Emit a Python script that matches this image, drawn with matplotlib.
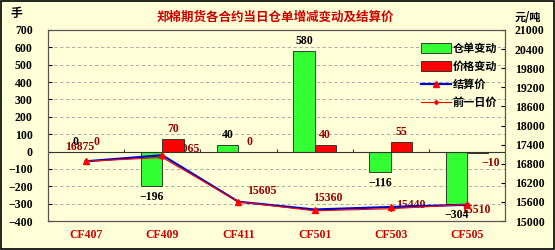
import matplotlib
matplotlib.use('Agg')
import matplotlib.pyplot as plt
from matplotlib.patches import Patch
from matplotlib.lines import Line2D
import numpy as np

plt.rcParams['font.family'] = ['Liberation Serif', 'Noto Sans CJK SC']
plt.rcParams['font.weight'] = 'bold'

contracts = ['CF407', 'CF409', 'CF411', 'CF501', 'CF503', 'CF505']
warrant_change = [0, -196, 40, 580, -116, -304]
price_change = [0, 70, 0, 40, 55, -10]
settle_price = [16875, 17065, 15605, 15360, 15440, 15510]
prev_price = [16875, 16995, 15605, 15320, 15385, 15520]

BG = '#FFFFD8'
DARKRED = '#990000'
FS = 8.5

# label offsets (pixels) for the settle price labels
settle_offsets = [(-6, 14), (22, 6), (23, 11), (13, 12), (20, 2), (9, -5)]

fig = plt.figure(figsize=(5.55, 2.5), dpi=100, facecolor=BG)
ax = fig.add_axes([0.0865, 0.116, 0.8235, 0.764])
ax.set_facecolor(BG)
ax2 = ax.twinx()

x = np.arange(len(contracts)) + 0.5
w = 0.28

ax.bar(x - w / 2, warrant_change, w, color='#33FF33', edgecolor='#222222',
       linewidth=0.6, zorder=3)
ax.bar(x + w / 2, price_change, w, color='#FF0000', edgecolor='#222222',
       linewidth=0.6, zorder=3)

for xi, v in zip(x, warrant_change):
    if v >= 0:
        ax.annotate(str(v), (xi - w / 2, v), xytext=(0, 4), textcoords='offset pixels',
                    ha='center', va='bottom', fontsize=FS, color='black', zorder=5)
    else:
        ax.annotate('−' + str(-v), (xi - w / 2, v), xytext=(0, -5), textcoords='offset pixels',
                    ha='center', va='top', fontsize=FS, color='black', zorder=5)

for xi, v in zip(x, price_change):
    if v >= 0:
        ax.annotate(str(v), (xi + w / 2, v), xytext=(0, 4), textcoords='offset pixels',
                    ha='center', va='bottom', fontsize=FS, color=DARKRED, zorder=5)
    else:
        ax.annotate('−' + str(-v), (xi + w / 2, v), xytext=(13, -4), textcoords='offset pixels',
                    ha='center', va='top', fontsize=FS, color=DARKRED, zorder=5)

ax.set_xlim(0, len(contracts))
ax.set_ylim(-400, 700)
ax.set_yticks(range(-400, 701, 100))
ax.set_yticklabels([str(t) if t >= 0 else '−' + str(-t) for t in range(-400, 701, 100)])
ax.set_xticks(x)
ax.set_xticklabels(contracts, color='#CC0000', fontsize=FS)
ax.tick_params(axis='x', length=0, pad=6)
ax.tick_params(axis='y', labelsize=FS, length=3, direction='in', pad=11)
for t in range(-300, 701, 100):
    if t != 0:
        ax.axhline(t, color='#A0A0A0', lw=0.6, ls=(0, (4, 3)), zorder=1)
ax.axhline(0, color='#333333', lw=0.8, zorder=4)
ax.vlines(np.arange(1, len(contracts)), 0, 12, color='#333333', lw=0.8, zorder=4)
for s in ax.spines.values():
    s.set_color('#555555')
    s.set_linewidth(0.8)

ax2.plot(x, settle_price, color='#0000CC', lw=1.6, marker='^', markersize=5,
         markerfacecolor='#FF0000', markeredgecolor='#FF0000', zorder=3)
ax2.plot(x, prev_price, color='#FF0000', lw=0.8, marker='D', markersize=2,
         markerfacecolor='#FF0000', markeredgecolor='#FF0000', zorder=4)
ax2.set_ylim(15000, 21000)
ax2.set_yticks(range(15000, 21001, 600))
ax2.tick_params(axis='y', labelsize=FS, length=3, direction='in', pad=7)
for s in ax2.spines.values():
    s.set_color('#555555')
    s.set_linewidth(0.8)

for xi, v, off in zip(x, settle_price, settle_offsets):
    ax.annotate(str(v), (xi, v), xycoords=ax2.transData, xytext=off,
                textcoords='offset pixels', ha='center', va='center',
                fontsize=FS, color=DARKRED, zorder=2, annotation_clip=False)

handles = [
    Patch(facecolor='#33FF33', edgecolor='#222222', linewidth=0.6),
    Patch(facecolor='#FF0000', edgecolor='#222222', linewidth=0.6),
    Line2D([], [], color='#0000CC', lw=1.6, marker='^', markersize=5,
           markerfacecolor='#FF0000', markeredgecolor='#FF0000'),
    Line2D([], [], color='#FF0000', lw=0.8, marker='D', markersize=2),
]
labels = ['仓单变动', '价格变动', '结算价', '前一日价']
fig.legend(handles, labels, loc='upper left', bbox_to_anchor=(0.748, 0.855),
           frameon=False, handlelength=2.7, handleheight=0.9,
           labelspacing=0.45, handletextpad=0.2, borderpad=0,
           prop={'family': ['Noto Sans CJK SC'], 'weight': 'bold', 'size': 8})

fig.text(0.497, 0.93, '郑棉期货各合约当日仓单增减变动及结算价', ha='center', va='center',
         fontsize=9, color='#CC0000', family=['Noto Sans CJK SC'], weight='bold')
fig.text(0.03, 0.945, '手', ha='center', va='center', fontsize=8.5,
         family=['Noto Sans CJK SC'], weight='bold')
fig.text(0.952, 0.93, '元/吨', ha='center', va='center', fontsize=8,
         family=['Noto Sans CJK SC'], weight='bold')

fig.add_artist(plt.Rectangle((0.002, 0.004), 0.996, 0.992, transform=fig.transFigure,
                             fill=False, edgecolor='black', lw=1.2))

fig.savefig('out.png', dpi=100, facecolor=BG)
